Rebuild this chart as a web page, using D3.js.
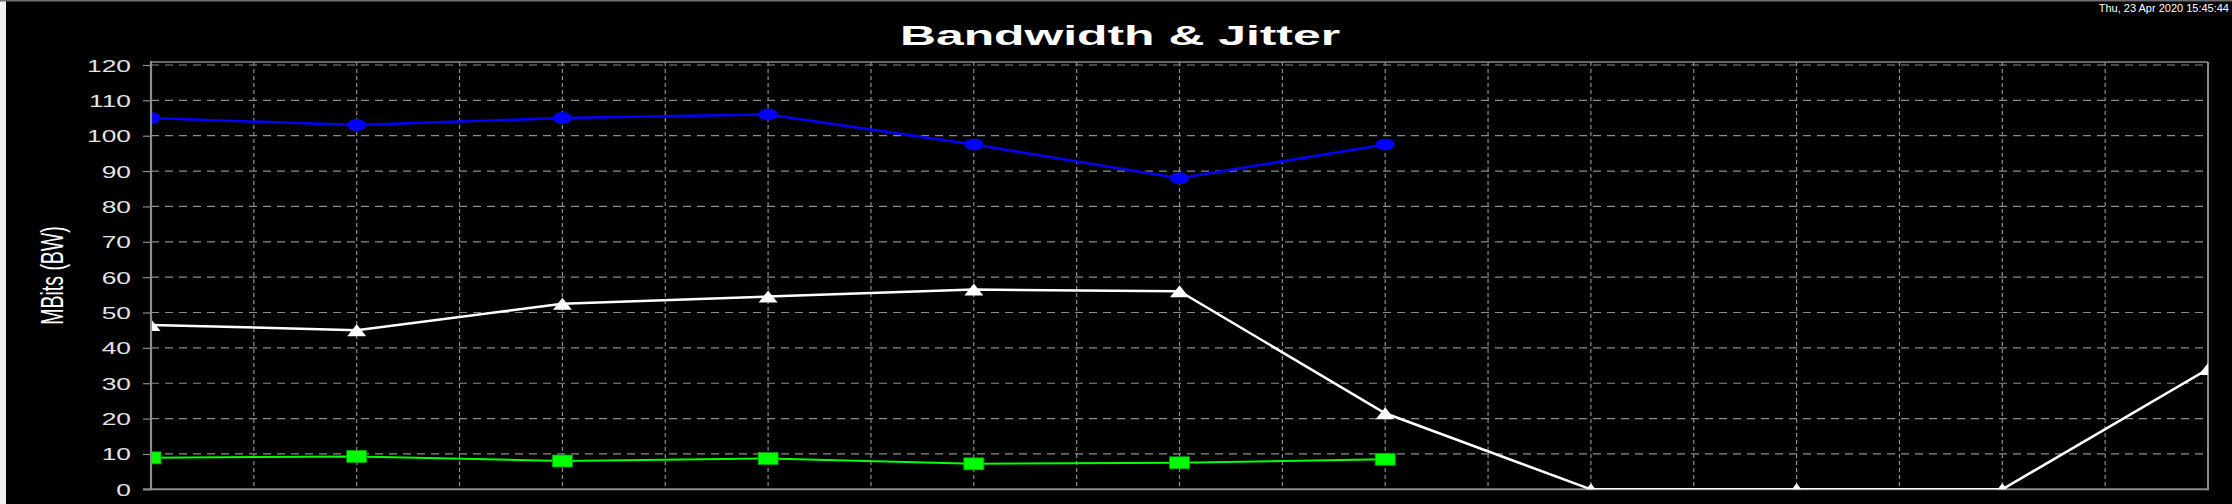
<!DOCTYPE html>
<html>
<head>
<meta charset="utf-8">
<script src="https://cdn.jsdelivr.net/npm/d3@7/dist/d3.min.js"></script>
<style>
  html, body { margin: 0; padding: 0; background: #000; }
  svg { display: block; }
</style>
</head>
<body>
<svg id="chart" width="2232" height="504"></svg>
<script>
// ---- data ----
const xIndex = [0, 1, 2, 3, 4, 5, 6, 7, 8, 9, 10];
const bandwidthBlue = [105, 103, 105, 106, 97.5, 88, 97.5];
const bandwidthWhite = [46.5, 45, 52.5, 54.5, 56.5, 56, 21.5, 0, 0, 0, 34];
const jitterGreen = [8.9, 9.3, 8.0, 8.7, 7.2, 7.5, 8.5];
const yTicks = [0, 10, 20, 30, 40, 50, 60, 70, 80, 90, 100, 110, 120];
const titleText = "Bandwidth & Jitter";
const yTitleText = "MBits (BW)";
const stampText = "Thu, 23 Apr 2020 15:45:44";

// ---- layout ----
const W = 2232, H = 504;
const pLeft = 151, pRight = 2208, pTop = 62, pBottom = 489.3;
const svg = d3.select("#chart");

const x = d3.scaleLinear().domain([0, 10]).range([pLeft, pRight]);
const y = d3.scaleLinear().domain([0, 120]).range([pBottom, 65]);

// background & outer frame
svg.append("rect").attr("x", 0).attr("y", 0).attr("width", W).attr("height", H).attr("fill", "#000");
svg.append("rect").attr("x", 0).attr("y", 0).attr("width", 6).attr("height", H).attr("fill", "#efefef");
svg.append("rect").attr("x", 0).attr("y", 0).attr("width", W).attr("height", 1.5).attr("fill", "#707070");

// timestamp
svg.append("text").attr("x", 2229).attr("y", 11.8)
  .attr("text-anchor", "end").attr("fill", "#fff")
  .style("font-family", "'Liberation Sans', Arial, sans-serif").style("font-size", "11px")
  .text(stampText);

// title (horizontally stretched like the original)
svg.append("text")
  .attr("transform", "translate(1120,45) scale(1.78,1)")
  .attr("text-anchor", "middle").attr("fill", "#fff")
  .style("font-family", "'Liberation Sans', Arial, sans-serif").style("font-size", "28px").style("font-weight", "bold")
  .text(titleText);

// y-axis title
svg.append("text")
  .attr("transform", "translate(63,275.5) scale(1.65,1) rotate(-90)")
  .attr("text-anchor", "middle").attr("fill", "#fff")
  .style("font-family", "'Liberation Sans', Arial, sans-serif").style("font-size", "19.5px")
  .text(yTitleText);

// gridlines
const gridColor = "#8c8c8c";
const vGrid = d3.range(1, 20).map(i => i * 0.5);
svg.append("g").selectAll("line").data(vGrid).join("line")
  .attr("x1", d => x(d)).attr("x2", d => x(d))
  .attr("y1", pTop).attr("y2", pBottom)
  .attr("stroke", gridColor).attr("stroke-width", 1.2).attr("stroke-dasharray", "4,3");
svg.append("g").selectAll("line").data(yTicks.filter(d => d > 0)).join("line")
  .attr("x1", pLeft).attr("x2", pRight)
  .attr("y1", d => y(d)).attr("y2", d => y(d))
  .attr("stroke", gridColor).attr("stroke-width", 1.2).attr("stroke-dasharray", "8,6");

// y axis with ticks and labels
const yAxis = d3.axisLeft(y).tickValues(yTicks).tickSize(8).tickPadding(0).tickFormat(d3.format("d"));
const ag = svg.append("g").attr("transform", `translate(${pLeft},0)`).call(yAxis);
ag.select(".domain").remove();
ag.selectAll(".tick line").attr("stroke", gridColor).attr("stroke-width", 1.2);
ag.selectAll(".tick text")
  .attr("x", null).attr("dy", null)
  .attr("transform", "translate(-20,6) scale(1.55,1)")
  .attr("text-anchor", "end").attr("fill", "#e4e4e4")
  .style("font-family", "'Liberation Sans', Arial, sans-serif").style("font-size", "17px");

// plot frame
svg.append("line").attr("x1", pLeft).attr("x2", pRight).attr("y1", pTop).attr("y2", pTop).attr("stroke", "#8c8c8c").attr("stroke-width", 1.5);
svg.append("line").attr("x1", pRight).attr("x2", pRight).attr("y1", pTop).attr("y2", pBottom + 1).attr("stroke", "#8c8c8c").attr("stroke-width", 2);
svg.append("line").attr("x1", pLeft - 8).attr("x2", pRight).attr("y1", pBottom).attr("y2", pBottom).attr("stroke", "#8c8c8c").attr("stroke-width", 2);

// clip for series
svg.append("clipPath").attr("id", "plotClip").append("rect")
  .attr("x", pLeft).attr("y", pTop).attr("width", pRight - pLeft).attr("height", pBottom - pTop);
const plot = svg.append("g").attr("clip-path", "url(#plotClip)");

const line = d3.line().x((d, i) => x(xIndex[i])).y(d => y(d));

// white series
plot.append("path").datum(bandwidthWhite).attr("d", line)
  .attr("fill", "none").attr("stroke", "#fff").attr("stroke-width", 2.5);
plot.append("g").selectAll("path").data(bandwidthWhite).join("path")
  .attr("d", "M0,-6 L9.5,6 L-9.5,6 Z")
  .attr("transform", (d, i) => `translate(${x(xIndex[i])},${y(d)})`)
  .attr("fill", "#fff");

// blue series
plot.append("path").datum(bandwidthBlue).attr("d", line)
  .attr("fill", "none").attr("stroke", "#0000ff").attr("stroke-width", 2.5);
plot.append("g").selectAll("ellipse").data(bandwidthBlue).join("ellipse")
  .attr("cx", (d, i) => x(xIndex[i])).attr("cy", d => y(d))
  .attr("rx", 9.5).attr("ry", 6).attr("fill", "#0000ff");

// green series
plot.append("path").datum(jitterGreen).attr("d", line)
  .attr("fill", "none").attr("stroke", "#00ff00").attr("stroke-width", 2);
plot.append("g").selectAll("rect").data(jitterGreen).join("rect")
  .attr("x", (d, i) => x(xIndex[i]) - 10).attr("y", d => y(d) - 6)
  .attr("width", 20).attr("height", 12)
  .attr("fill", "#00ff00").attr("stroke", "#00a000").attr("stroke-width", 0.8);

// left axis line (on top)
svg.append("line").attr("x1", pLeft).attr("x2", pLeft).attr("y1", pTop - 1).attr("y2", pBottom + 1)
  .attr("stroke", "#8c8c8c").attr("stroke-width", 2.2);
</script>
</body>
</html>
